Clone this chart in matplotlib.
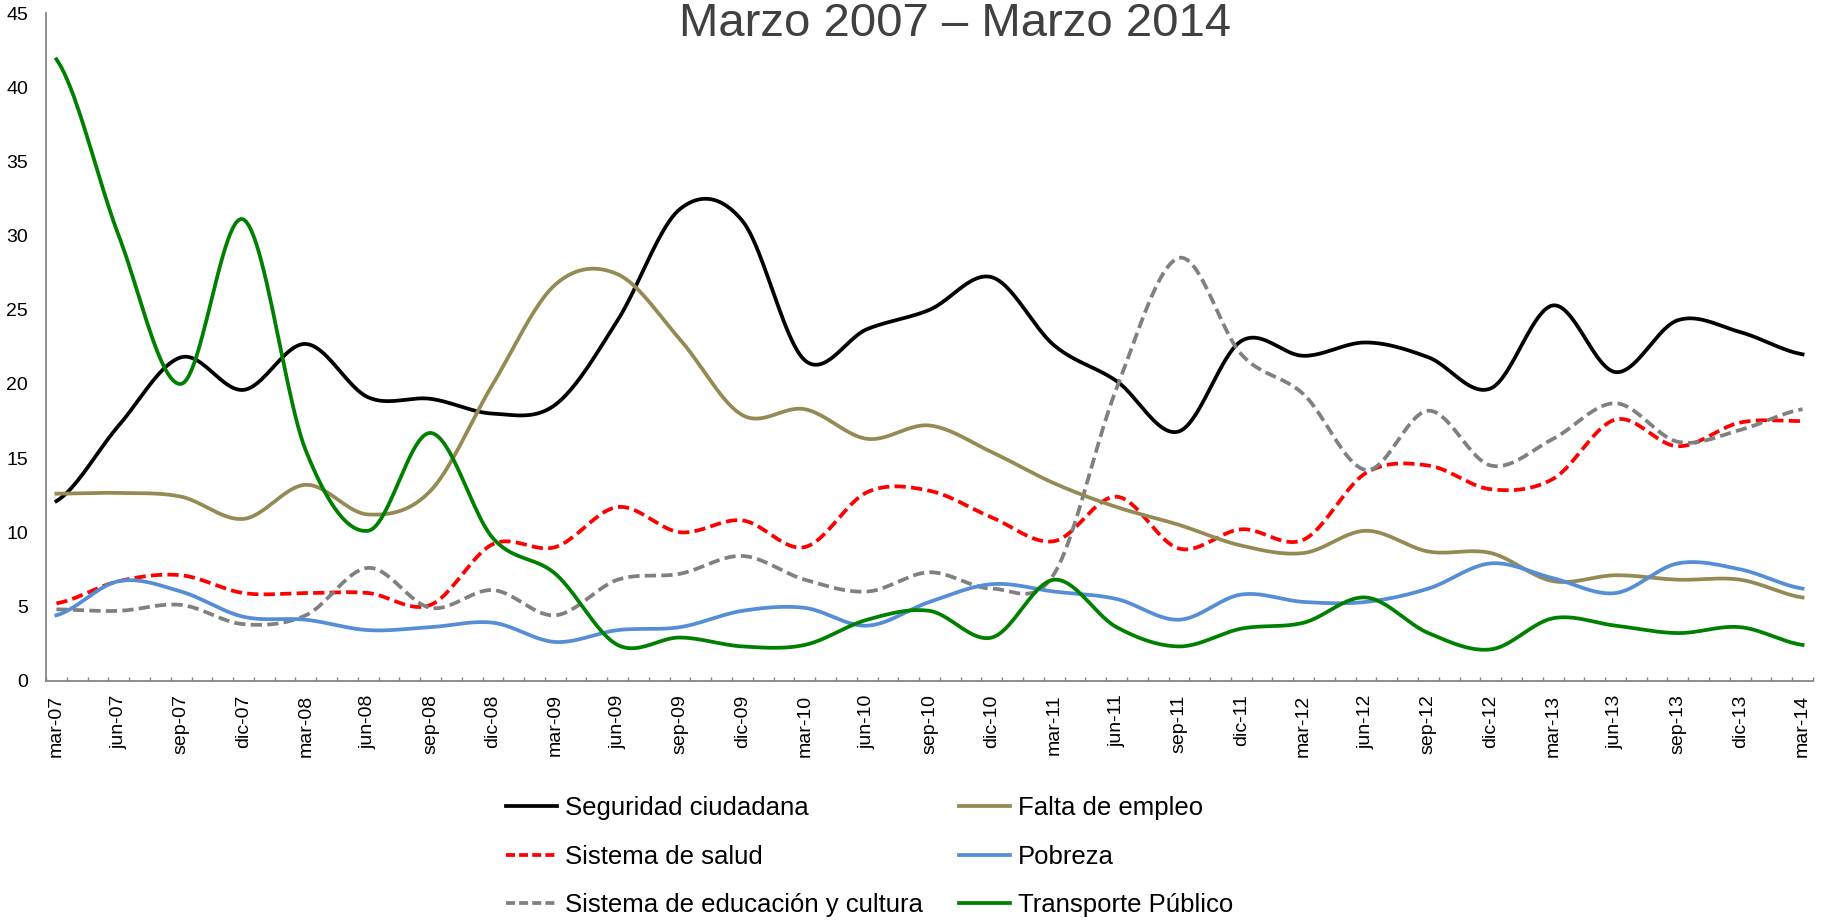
import numpy as np
import matplotlib.pyplot as plt

plt.rcParams['font.family'] = ['Liberation Sans', 'DejaVu Sans']

trimestres = ['mar-07', 'jun-07', 'sep-07', 'dic-07',
              'mar-08', 'jun-08', 'sep-08', 'dic-08',
              'mar-09', 'jun-09', 'sep-09', 'dic-09',
              'mar-10', 'jun-10', 'sep-10', 'dic-10',
              'mar-11', 'jun-11', 'sep-11', 'dic-11',
              'mar-12', 'jun-12', 'sep-12', 'dic-12',
              'mar-13', 'jun-13', 'sep-13', 'dic-13',
              'mar-14']

seguridad = [12.1, 17.2, 21.8, 19.6, 22.7, 19.1, 19.0, 18.0, 18.6, 24.3,
             31.8, 31.0, 21.6, 23.7, 25.0, 27.2, 22.6, 20.2, 16.8, 22.9,
             21.9, 22.8, 21.8, 19.7, 25.3, 20.8, 24.3, 23.5, 22.0]
empleo = [12.6, 12.65, 12.4, 10.9, 13.2, 11.2, 12.8, 20.0, 26.7, 27.4,
          23.0, 17.9, 18.3, 16.3, 17.2, 15.4, 13.3, 11.7, 10.5, 9.1,
          8.6, 10.1, 8.7, 8.6, 6.7, 7.1, 6.8, 6.8, 5.6]
salud = [5.2, 6.7, 7.1, 5.9, 5.9, 5.9, 5.1, 9.2, 9.0, 11.7,
         10.0, 10.8, 9.0, 12.7, 12.8, 11.0, 9.4, 12.4, 8.9, 10.2,
         9.5, 14.0, 14.5, 12.9, 13.6, 17.6, 15.8, 17.4, 17.5]
pobreza = [4.4, 6.7, 6.0, 4.3, 4.1, 3.4, 3.6, 3.9, 2.6, 3.4,
           3.6, 4.7, 4.9, 3.7, 5.3, 6.5, 6.0, 5.5, 4.1, 5.8,
           5.3, 5.3, 6.2, 7.9, 6.9, 5.9, 7.9, 7.5, 6.2]
educacion = [4.8, 4.7, 5.1, 3.8, 4.4, 7.6, 4.9, 6.1, 4.4, 6.8,
             7.2, 8.4, 6.8, 6.0, 7.3, 6.2, 7.2, 19.7, 28.5, 22.0,
             19.3, 14.2, 18.2, 14.5, 16.3, 18.7, 16.1, 16.9, 18.3]
transporte = [41.9, 30.0, 20.0, 31.1, 15.5, 10.1, 16.7, 9.6, 7.2, 2.4,
              2.9, 2.3, 2.4, 4.1, 4.7, 2.9, 6.8, 3.6, 2.3, 3.5,
              3.9, 5.6, 3.2, 2.1, 4.2, 3.7, 3.2, 3.6, 2.4]


def smooth(y, n=24):
    # curva suavizada tipo Excel (bezier que pasa por los puntos)
    y = np.asarray(y, dtype=float)
    p = np.concatenate([[y[0]], y, [y[-1]]])
    t = np.linspace(0, 1, n, endpoint=False)
    xs, ys = [], []
    for i in range(len(y) - 1):
        p0, p1, p2, p3 = p[i], p[i + 1], p[i + 2], p[i + 3]
        c1 = p1 + (p2 - p0) / 6
        c2 = p2 - (p3 - p1) / 6
        ys.append((1 - t) ** 3 * p1 + 3 * (1 - t) ** 2 * t * c1
                  + 3 * (1 - t) * t ** 2 * c2 + t ** 3 * p2)
        xs.append(i + t)
    xs.append([len(y) - 1])
    ys.append([y[-1]])
    return np.concatenate(xs), np.concatenate(ys)


series = [
    ('Seguridad ciudadana', seguridad, '#000000', '-'),
    ('Sistema de salud', salud, '#FF0000', '--'),
    ('Sistema de educación y cultura', educacion, '#808080', '--'),
    ('Falta de empleo', empleo, '#948A54', '-'),
    ('Pobreza', pobreza, '#558ED5', '-'),
    ('Transporte Público', transporte, '#008000', '-'),
]

fig = plt.figure(figsize=(18.25, 9.22), dpi=100)
ax = fig.add_axes([0.0252, 0.2619, 0.9682, 0.7237])

for nombre, vals, color, ls in series:
    x, y = smooth(vals)
    line, = ax.plot(x, y, color=color, lw=2.7, label=nombre)
    if ls == '--':
        line.set_dashes((3, 1.4))

ax.set_xlim(-1 / 6, len(trimestres) - 1 + 1 / 6)
ax.set_ylim(0, 45)
ax.set_yticks(range(0, 46, 5))
ax.set_xticks(range(len(trimestres)))
ax.set_xticklabels(trimestres, rotation=90)
ax.set_xticks(np.arange(-1 / 6, len(trimestres) - 1 + 0.2, 1 / 3), minor=True)

ax.tick_params(axis='x', which='major', length=0, pad=10, labelsize=14)
ax.tick_params(axis='x', which='minor', length=3, direction='in',
               color='#868686', width=1)
ax.tick_params(axis='y', length=0, pad=13, labelsize=14)

for s in ['top', 'right']:
    ax.spines[s].set_visible(False)
for s in ['left', 'bottom']:
    ax.spines[s].set_color('#868686')
    ax.spines[s].set_linewidth(1.3)

fig.text(0.5233, 0.961, 'Marzo 2007 – Marzo 2014', ha='center',
         va='baseline', fontsize=34, color='#404040')

leg = ax.legend(loc='upper left', bbox_to_anchor=(506 / 1825, 1 - 796 / 922),
                bbox_transform=fig.transFigure, ncol=2, frameon=False,
                fontsize=18.5, handlelength=2.0, handletextpad=0.3,
                columnspacing=1.4, labelspacing=0.96, borderpad=0,
                borderaxespad=0)
for h in leg.get_lines():
    if h.get_linestyle() != '-':
        h.set_dashes((2.4, 1.1))

fig.savefig('out.png', dpi=100)
